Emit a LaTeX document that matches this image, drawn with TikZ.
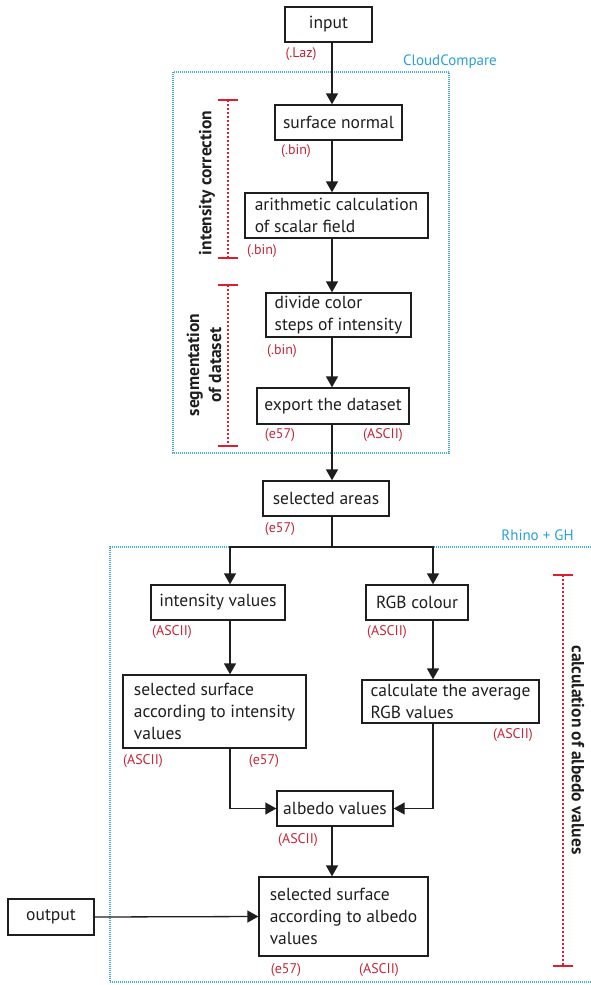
\documentclass[tikz,border=0pt]{standalone}
\usepackage{fontspec}
\setmainfont{PT Sans}
\usetikzlibrary{arrows.meta}
\definecolor{redtxt}{RGB}{196,38,56}
\definecolor{redbar}{RGB}{222,30,42}
\definecolor{bluetxt}{RGB}{40,160,215}
\definecolor{bluebox}{RGB}{70,172,212}
\definecolor{ink}{RGB}{30,30,30}
\begin{document}
\begin{tikzpicture}[x=1pt,y=-1pt,
  box/.style={draw=ink, line width=1.3pt, inner sep=0pt, font=\fontsize{17.5}{22}\selectfont, text=ink},
  ftag/.style={text=redtxt, font=\fontsize{14}{16}\selectfont, inner sep=0pt},
  arr/.style={draw=ink, line width=1.3pt, -{Triangle[length=11pt,width=12pt]}},
  link/.style={draw=ink, line width=1.3pt},
  group/.style={draw=bluebox, line width=1.2pt, dash pattern=on 1pt off 1pt},
  grouptitle/.style={text=bluetxt, font=\fontsize{15}{17}\selectfont, inner sep=0pt},
  stagebar/.style={draw=redbar, line width=2pt, dash pattern=on 2pt off 2pt},
  stagetick/.style={draw=redbar, line width=2.5pt},
  stagetext/.style={font=\bfseries\fontsize{17.5}{22}\selectfont, align=center, inner sep=0pt, text=ink}
]
\useasboundingbox (0,0) rectangle (590,985);

% groups
\draw[group] (173,72) rectangle (449,453);
\draw[group] (591,547) -- (110,547) -- (110,982) -- (591,982);
\node[grouptitle, anchor=east] (cc) at (497,62) {CloudCompare};
\node[grouptitle] (rg) at (537.5,535) {Rhino + GH};

% boxes
\node[box, minimum width=87pt, minimum height=35pt] (input) at (328.5,24.5) {input};
\node[box, minimum width=127pt, minimum height=35pt] (surf) at (338.5,122.5) {surface normal};
\node[box, minimum width=183pt, minimum height=45pt, align=left] (arith) at (336.5,215.5) {arithmetic calculation\\of scalar field};
\node[box, minimum width=145pt, minimum height=44pt, align=left] (divide) at (338.5,315) {divide color\\steps of intensity};
\node[box, minimum width=152pt, minimum height=36pt] (export) at (333,406) {export the dataset};
\node[box, minimum width=126pt, minimum height=35pt] (sel) at (326,498.5) {selected areas};
\node[box, minimum width=134pt, minimum height=35pt] (intv) at (218,602.5) {intensity values};
\node[box, minimum width=102pt, minimum height=35pt] (rgb) at (417,602.5) {RGB colour};
\node[box, minimum width=183pt, minimum height=73pt, align=left] (selsurf) at (214.5,711.5) {selected surface\\according to intensity\\values};
\node[box, minimum width=177pt, minimum height=43pt, align=left] (calc) at (450.5,701.5) {calculate the average\\RGB values};
\node[box, minimum width=116pt, minimum height=35pt] (alb) at (335,808.5) {albedo values};
\node[box, minimum width=169pt, minimum height=79pt, align=left] (final) at (343.5,916.5) {selected surface\\according to albedo\\values};
\node[box, minimum width=86pt, minimum height=36pt] (output) at (51,917) {output};

% file-format tags
\node[ftag] (t1) at (301,54) {(.Laz)};
\node[ftag] (t2) at (296,151) {(.bin)};
\node[ftag] (t3) at (262,251) {(.bin)};
\node[ftag] (t4) at (282,351) {(.bin)};
\node[ftag] (t5) at (280,435) {(e57)};
\node[ftag] (t6) at (383,435) {(ASCII)};
\node[ftag] (t7) at (280,529) {(e57)};
\node[ftag] (t8) at (172,632) {(ASCII)};
\node[ftag] (t9) at (387,632) {(ASCII)};
\node[ftag] (t10) at (143,761) {(ASCII)};
\node[ftag] (t11) at (264,761) {(e57)};
\node[ftag] (t12) at (513,735) {(ASCII)};
\node[ftag] (t13) at (298,840) {(ASCII)};
\node[ftag] (t14) at (286,970) {(e57)};
\node[ftag] (t15) at (379,970) {(ASCII)};

% stage labels
\node[stagetext, rotate=90] (icl) at (207,183) {intensity correction};
\node[stagetext, rotate=90] (sdl) at (204,365) {segmentation\\of dataset};
\node[stagetext, rotate=-90] (cal) at (578,750) {calculation of albedo values};

\coordinate (ic1) at (228,100); \coordinate (ic2) at (228,258);
\coordinate (sd1) at (228,285); \coordinate (sd2) at (228,446);
\coordinate (ca1) at (563,575); \coordinate (ca2) at (563,966);
\draw[stagebar] (ic1) -- (ic2);
\draw[stagebar] (sd1) -- (sd2);
\draw[stagebar] (ca1) -- (ca2);
\foreach \p in {ic1,ic2,sd1,sd2,ca1,ca2}
  \draw[stagetick] ([xshift=-10pt]\p) -- ([xshift=10pt]\p);

% connectors
\coordinate (spine) at (332,0);
\coordinate (spl) at (332,547);
\coordinate (jL) at (230,547);
\coordinate (jR) at (433,547);
\draw[arr] (input.south -| spine) -- (surf.north -| spine);
\draw[arr] (surf.south -| spine) -- (arith.north -| spine);
\draw[arr] (arith.south -| spine) -- (divide.north -| spine);
\draw[arr] (divide.south -| spine) -- (export.north -| spine);
\draw[arr] (export.south -| spine) -- (sel.north -| spine);
\draw[link] (sel.south -| spl) -- (spl);
\draw[arr] (spl) -- (jL) -- (intv.north -| jL);
\draw[arr] (spl) -- (jR) -- (rgb.north -| jR);
\draw[arr] (intv.south -| jL) -- (selsurf.north -| jL);
\draw[arr] (rgb.south -| jR) -- (calc.north -| jR);
\draw[arr] (selsurf.south -| jL) |- (alb.west);
\draw[arr] (calc.south -| jR) |- (alb.east);
\draw[arr] (alb.south -| spine) -- (final.north -| spine);
\draw[arr] (output.east) -- (final.west);
\end{tikzpicture}
\end{document}
